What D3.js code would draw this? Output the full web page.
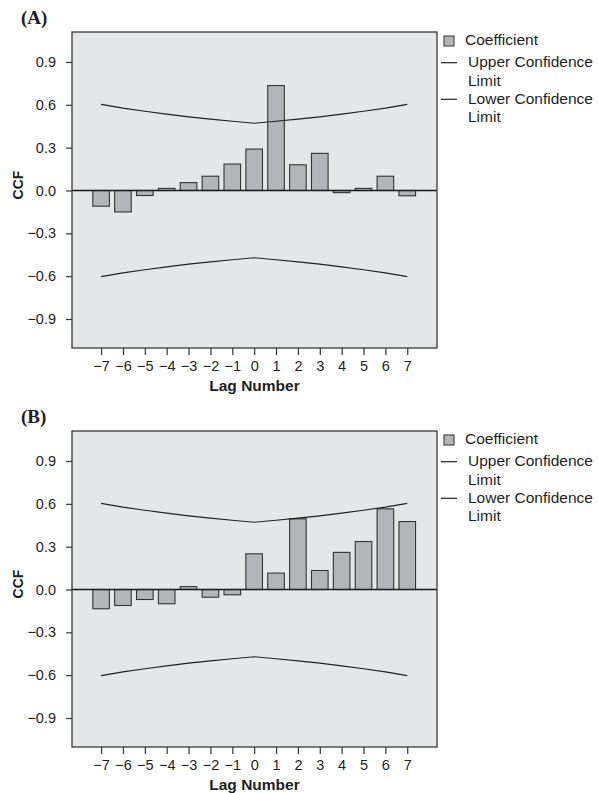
<!DOCTYPE html>
<html>
<head>
<meta charset="utf-8">
<script src="https://cdn.jsdelivr.net/npm/d3@7"></script>
<style>
  body { margin: 0; background: #fff; }
  text { font-family: Arial, "Liberation Sans", sans-serif; fill: #1e1e1e; }
</style>
</head>
<body>
<script>
// Cross-correlation panels (A) and (B)

const width = 598;
const height = 793;

// Lags on the x axis
const lags = [-7, -6, -5, -4, -3, -2, -1, 0, 1, 2, 3, 4, 5, 6, 7];

// CCF coefficients
const coefA = [-0.11, -0.15, -0.035, 0.015, 0.055, 0.10, 0.185, 0.29, 0.735, 0.18, 0.26, -0.015, 0.015, 0.10, -0.037];
const coefB = [-0.135, -0.112, -0.07, -0.10, 0.02, -0.054, -0.037, 0.25, 0.115, 0.495, 0.133, 0.26, 0.336, 0.565, 0.476];

// Confidence limits (same in both panels)
const upperLimit = [0.603, 0.577, 0.555, 0.535, 0.516, 0.500, 0.485, 0.471, 0.485, 0.500, 0.516, 0.535, 0.555, 0.577, 0.603];
const lowerLimit = [-0.603, -0.577, -0.555, -0.535, -0.516, -0.500, -0.485, -0.471, -0.485, -0.500, -0.516, -0.535, -0.555, -0.577, -0.603];

// Axis ticks and legend
const yTicks = [-0.9, -0.6, -0.3, 0.0, 0.3, 0.6, 0.9];
const legendItems = ["Coefficient", "Upper Confidence|Limit", "Lower Confidence|Limit"];
const panels = [
  { label: "(A)", coef: coefA },
  { label: "(B)", coef: coefB },
];

const svg = d3.select("body").append("svg")
  .attr("width", width)
  .attr("height", height);

// plot box inside one panel
const box = { left: 72, right: 437, top: 32, bottom: 348 };
const panelStep = 399;

const x = d3.scaleLinear().domain([-8.33, 8.36]).range([box.left, box.right]);
const y = d3.scaleLinear().domain([-1.103, 1.11]).range([box.bottom, box.top]);
const barW = 16.6;

function drawPanel(p, i) {
  const g = svg.append("g").attr("transform", `translate(0,${i * panelStep})`);

  // panel letter
  g.append("text")
    .attr("x", 21)
    .attr("y", 24)
    .style("font-family", "'Liberation Serif', 'Times New Roman', serif")
    .style("font-weight", "bold")
    .style("font-size", "19px")
    .text(p.label);

  // plot background
  g.append("rect")
    .attr("x", box.left)
    .attr("y", box.top)
    .attr("width", box.right - box.left)
    .attr("height", box.bottom - box.top)
    .attr("fill", "#e5e6e8");

  // bars
  g.append("g").selectAll("rect")
    .data(p.coef)
    .join("rect")
    .attr("x", (d, k) => x(lags[k]) - barW / 2)
    .attr("y", (d) => y(Math.max(0, d)))
    .attr("width", barW)
    .attr("height", (d) => Math.abs(y(d) - y(0)))
    .attr("fill", "#b4b5b9")
    .attr("stroke", "#333")
    .attr("stroke-width", 1.1);

  // confidence limits
  const line = d3.line().x((d, k) => x(lags[k])).y((d) => y(d));
  [upperLimit, lowerLimit].forEach((lim) => {
    g.append("path")
      .attr("d", line(lim))
      .attr("fill", "none")
      .attr("stroke", "#222")
      .attr("stroke-width", 1.2);
  });

  // zero line
  g.append("line")
    .attr("x1", box.left)
    .attr("x2", box.right)
    .attr("y1", y(0))
    .attr("y2", y(0))
    .attr("stroke", "#1a1a1a")
    .attr("stroke-width", 1.6);

  // frame
  g.append("rect")
    .attr("x", box.left)
    .attr("y", box.top)
    .attr("width", box.right - box.left)
    .attr("height", box.bottom - box.top)
    .attr("fill", "none")
    .attr("stroke", "#3a3a3a")
    .attr("stroke-width", 1.3);

  // axes
  const yAxis = g.append("g")
    .attr("transform", `translate(${box.left},0)`)
    .call(d3.axisLeft(y).tickValues(yTicks).tickFormat(d3.format(".1f")).tickSize(6).tickPadding(10));
  yAxis.select(".domain").remove();
  yAxis.selectAll("text").style("font-size", "14.5px").attr("fill", "#1e1e1e");
  yAxis.selectAll("line").attr("stroke", "#333").attr("stroke-width", 1.2);

  const xAxis = g.append("g")
    .attr("transform", `translate(0,${box.bottom})`)
    .call(d3.axisBottom(x).tickValues(lags).tickFormat(d3.format("d")).tickSize(7).tickPadding(6));
  xAxis.select(".domain").remove();
  xAxis.selectAll("text").style("font-size", "14.5px").attr("fill", "#1e1e1e");
  xAxis.selectAll("line").attr("stroke", "#333").attr("stroke-width", 1.2);

  // axis titles
  g.append("text")
    .attr("x", (box.left + box.right) / 2)
    .attr("y", 391)
    .attr("text-anchor", "middle")
    .style("font-weight", "bold")
    .style("font-size", "15.5px")
    .text("Lag Number");

  g.append("text")
    .attr("transform", `translate(23,${(box.top + box.bottom) / 2 - 5}) rotate(-90)`)
    .attr("text-anchor", "middle")
    .style("font-weight", "bold")
    .style("font-size", "14px")
    .text("CCF");

  // legend
  const lg = g.append("g");
  lg.append("rect")
    .attr("x", 444).attr("y", 36)
    .attr("width", 10).attr("height", 10)
    .attr("fill", "#b4b5b9").attr("stroke", "#333").attr("stroke-width", 1);
  lg.append("line")
    .attr("x1", 441).attr("x2", 457).attr("y1", 62.7).attr("y2", 62.7)
    .attr("stroke", "#222").attr("stroke-width", 1.2);
  lg.append("line")
    .attr("x1", 441).attr("x2", 457).attr("y1", 99.3).attr("y2", 99.3)
    .attr("stroke", "#222").attr("stroke-width", 1.2);

  const legendPos = [{ x: 465, y: 45 }, { x: 468, y: 67 }, { x: 468, y: 103.5 }];
  legendItems.forEach((item, k) => {
    const t = lg.append("text")
      .attr("x", legendPos[k].x)
      .attr("y", legendPos[k].y)
      .style("font-size", "15.5px");
    item.split("|").forEach((part, j) => {
      t.append("tspan")
        .attr("x", legendPos[k].x)
        .attr("dy", j > 0 ? 18.5 : 0)
        .text(part);
    });
  });
}

panels.forEach(drawPanel);
</script>
</body>
</html>
